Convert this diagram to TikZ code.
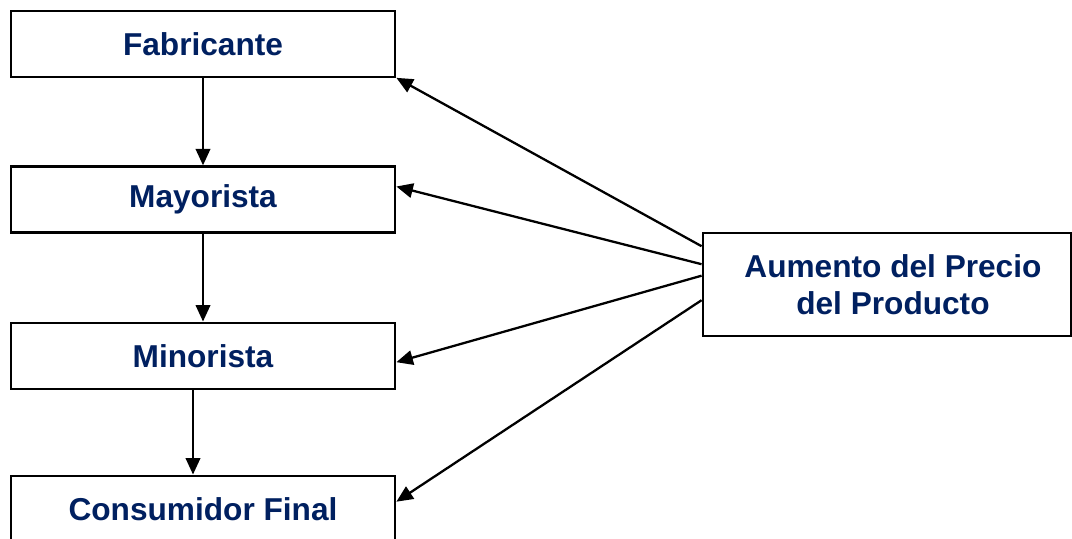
\documentclass[tikz,border=0pt]{standalone}
\usepackage{fontspec}
\setmainfont{Liberation Sans}
\usetikzlibrary{positioning,arrows.meta}
\definecolor{ink}{HTML}{000000}
\definecolor{navy}{HTML}{002060}
\tikzset{
  chain/.style={draw=ink, line width=1.3pt, fill=white, align=center,
                font=\fontsize{18}{21.6}\selectfont\bfseries, text=navy,
                minimum width=7.69cm, minimum height=1.32cm, inner sep=2pt},
  cause/.style={chain, minimum width=7.36cm, minimum height=2.06cm},
  flow/.style={-{Triangle[length=3.3mm,width=2.9mm]}, line width=1.3pt, draw=ink},
}
\begin{document}
\begin{tikzpicture}
\useasboundingbox (0,0) rectangle (21.44,10.76);
  % distribution chain
  \node[chain] (fab)  at (4.06,9.886) {Fabricante};
  \node[chain] (may)  at (4.06,6.77)  {Mayorista};
  \node[chain] (min)  at (4.06,3.646) {Minorista};
  \node[chain] (cons) at (4.06,0.586) {Consumidor Final};
  % price increase
  \node[cause] (aum)  at (17.734,5.066) {\hspace*{2.5mm}Aumento del Precio\\\hspace*{2.5mm}del Producto};
  % ---- chain arrows ----
  \draw[flow] (fab) -- (may);
  \draw[flow] (may) -- (min);
  \draw[flow] ([xshift=-2mm]min.south) -- ([xshift=-2mm]cons.north);
  % ---- effect arrows ----
  \draw[flow] ([yshift=7.7mm]aum.west)  -- (fab.south east);
  \draw[flow] ([yshift=4.1mm]aum.west)  -- ([yshift=2.6mm]may.east);
  \draw[flow] ([yshift=1.8mm]aum.west)  -- ([yshift=-1.3mm]min.east);
  \draw[flow] ([yshift=-3.1mm]aum.west) -- ([yshift=1.4mm]cons.east);
\end{tikzpicture}
\end{document}
